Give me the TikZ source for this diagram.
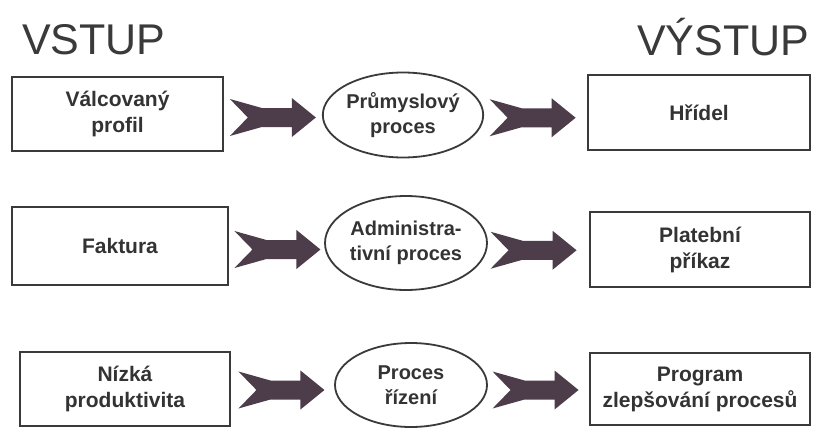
\documentclass[tikz,border=0pt]{standalone}
\usepackage{fontspec}
\setmainfont{Liberation Sans}
\usetikzlibrary{shapes.geometric,calc}
\definecolor{arrowcol}{HTML}{4D3D4B}
\definecolor{linecol}{HTML}{3A3A3A}
\definecolor{txtcol}{HTML}{333333}
\tikzset{
  x=1pt, y=-1pt,
  boxnode/.style={draw=linecol, line width=1.6pt, rectangle, inner sep=0pt,
    align=center, text=txtcol, font=\fontsize{21}{26}\selectfont\bfseries},
  procnode/.style={draw=linecol, line width=1.8pt, ellipse, inner sep=0pt,
    align=center, text=txtcol, font=\fontsize{20}{25}\selectfont\bfseries},
  titlenode/.style={anchor=base west, inner sep=0pt, text=linecol,
    font=\fontsize{43}{43}\selectfont},
  chev/.pic={\fill[arrowcol] (-43,-18.5) -- (-11,-9.5) -- (19,-9.5) -- (19,-19.5)
    -- (43,0) -- (19,19.5) -- (19,9.5) -- (-11,9.5) -- (-43,18.5) -- (-25,0) -- cycle;}
}
\begin{document}
\begin{tikzpicture}
\useasboundingbox[fill=white] (0,0) rectangle (819,428);
% titles
\node[titlenode] (tin) at (22,55) {VSTUP};
\node[titlenode] (tout) at (637,56) {VÝSTUP};
% left boxes
\node[boxnode, minimum width=211, minimum height=74] (L1) at (117.5,114) {Válcovaný\\profil};
\node[boxnode, minimum width=216, minimum height=78] (L2) at (120,246) {Faktura};
\node[boxnode, minimum width=210, minimum height=74] (L3) at (125,389) {Nízká\\produktivita};
% processes
\node[procnode, minimum width=154, minimum height=85] (E1) at (403,115) {Průmyslový\\proces};
\node[procnode, minimum width=162, minimum height=94] (E2) at (406,243) {Administra-\\tivní proces};
\node[procnode, minimum width=152, minimum height=84] (E3) at (411,385) {Proces\\řízení};
% right boxes
\node[boxnode, minimum width=222, minimum height=75] (R1) at (699,112.5) {Hřídel};
\node[boxnode, minimum width=220, minimum height=75] (R2) at (700,249.5) {Platební\\příkaz};
\node[boxnode, minimum width=220, minimum height=72] (R3) at (700,389) {Program\\zlepšování procesů};
% chevron arrows
\path ($(L1.east)!0.5!(E1.west)+(0,3)$) pic{chev};
\path ($(E1.east)!0.5!(R1.west)+(-3,4)$) pic{chev};
\path ($(L2.east)!0.5!(E2.west)+(1,5)$) pic{chev};
\path ($(E2.east)!0.5!(R2.west)+(-5,4)$) pic{chev};
\path ($(L3.east)!0.5!(E3.west)+(-1,3)$) pic{chev};
\path ($(E3.east)!0.5!(R3.west)+(-3,3)$) pic{chev};
\end{tikzpicture}
\end{document}
